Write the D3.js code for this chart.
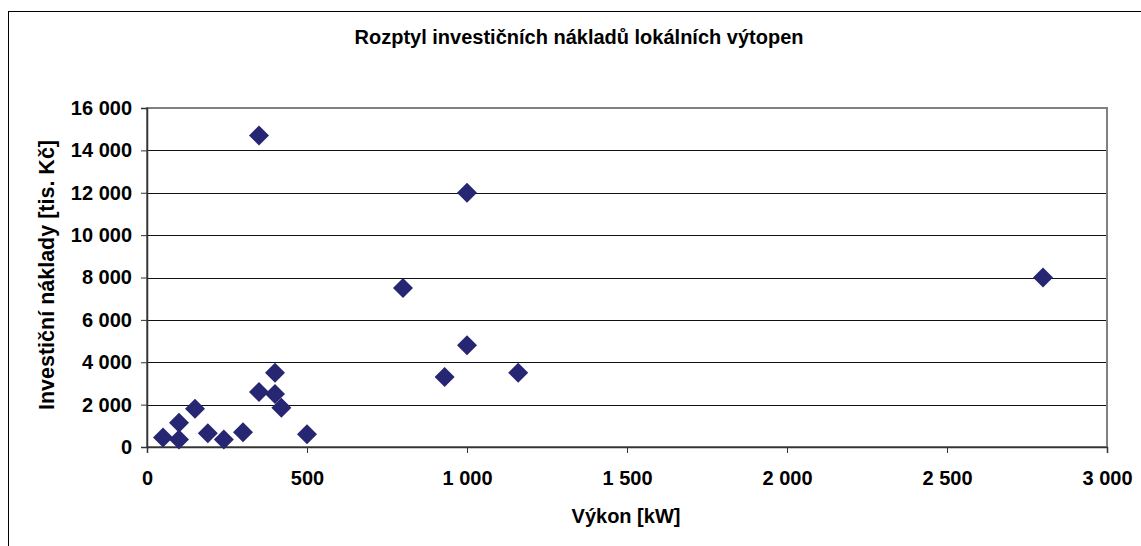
<!DOCTYPE html>
<html><head><meta charset="utf-8">
<script src="https://cdn.jsdelivr.net/npm/d3@7"></script>
<style>body{margin:0;background:#fff;} svg{display:block;font-family:"Liberation Sans",Arial,sans-serif;}</style>
</head><body>
<svg id="c" width="1141" height="546"></svg>
<script>
const power = [350, 1000, 800, 2800, 1000, 930, 1160, 400, 350, 400, 420, 150, 100, 50, 100, 190, 240, 300, 500];
const cost  = [14700, 12000, 7500, 8000, 4800, 3300, 3500, 3500, 2600, 2500, 1850, 1800, 1150, 450, 350, 650, 350, 700, 600];
const xTicks = [0, 500, 1000, 1500, 2000, 2500, 3000];
const yTicks = [0, 2000, 4000, 6000, 8000, 10000, 12000, 14000, 16000];
const title = "Rozptyl investičních nákladů lokálních výtopen";
const xTitle = "Výkon [kW]";
const yTitle = "Investiční náklady [tis. Kč]";

const svg = d3.select("#c");
const L = 147, R = 1107, T = 108, B = 447;
const x = d3.scaleLinear().domain([0, 3000]).range([L, R]);
const y = d3.scaleLinear().domain([0, 16000]).range([B, T]);
const fmt = v => d3.format(",")(v).replace(/,/g, " ");

// outer chart border
svg.append("rect").attr("x", 8.5).attr("y", 11.5).attr("width", 1150).attr("height", 560)
  .attr("fill", "#fff").attr("stroke", "#000").attr("stroke-width", 1);

// gridlines
svg.append("g").selectAll("line").data(yTicks.filter(d => d > 0 && d < 16000)).join("line")
  .attr("x1", L).attr("x2", R).attr("y1", d => Math.round(y(d)) + 0.5).attr("y2", d => Math.round(y(d)) + 0.5)
  .attr("stroke", "#111").attr("stroke-width", 1);

// plot border (gray)
svg.append("rect").attr("x", L).attr("y", T).attr("width", R - L).attr("height", B - T)
  .attr("fill", "none").attr("stroke", "#808080").attr("stroke-width", 2);

// axes
const gx = svg.append("g").attr("transform", `translate(0,${B})`)
  .call(d3.axisBottom(x).tickValues(xTicks).tickSize(6).tickPadding(18).tickFormat(fmt));
const gy = svg.append("g").attr("transform", `translate(${L},0)`)
  .call(d3.axisLeft(y).tickValues(yTicks).tickSize(6).tickPadding(9).tickFormat(fmt));
[gx, gy].forEach(g => {
  g.select(".domain").attr("stroke", "#333").attr("stroke-width", 1.5);
  g.selectAll(".tick line").attr("stroke", "#333");
  g.selectAll(".tick text").attr("fill", "#000").style("font-size", "20px").style("font-weight", "bold")
   .style("font-family", '"Liberation Sans",Arial,sans-serif');
});

// points
const pts = power.map((p, i) => ({p, c: cost[i]}));
svg.append("g").selectAll("path").data(pts).join("path")
  .attr("transform", d => `translate(${x(d.p)},${y(d.c)})`)
  .attr("d", "M0,-10L10,0L0,10L-10,0Z")
  .attr("fill", "#262672");

// titles
svg.append("text").attr("x", 579).attr("y", 44).attr("text-anchor", "middle")
  .style("font-size", "20px").style("font-weight", "bold").text(title);
svg.append("text").attr("x", 626).attr("y", 523).attr("text-anchor", "middle")
  .style("font-size", "20px").style("font-weight", "bold").text(xTitle);
svg.append("text").attr("transform", `translate(54,275) rotate(-90)`).attr("text-anchor", "middle")
  .style("font-size", "21.5px").style("font-weight", "bold").text(yTitle);
</script>
</body></html>
